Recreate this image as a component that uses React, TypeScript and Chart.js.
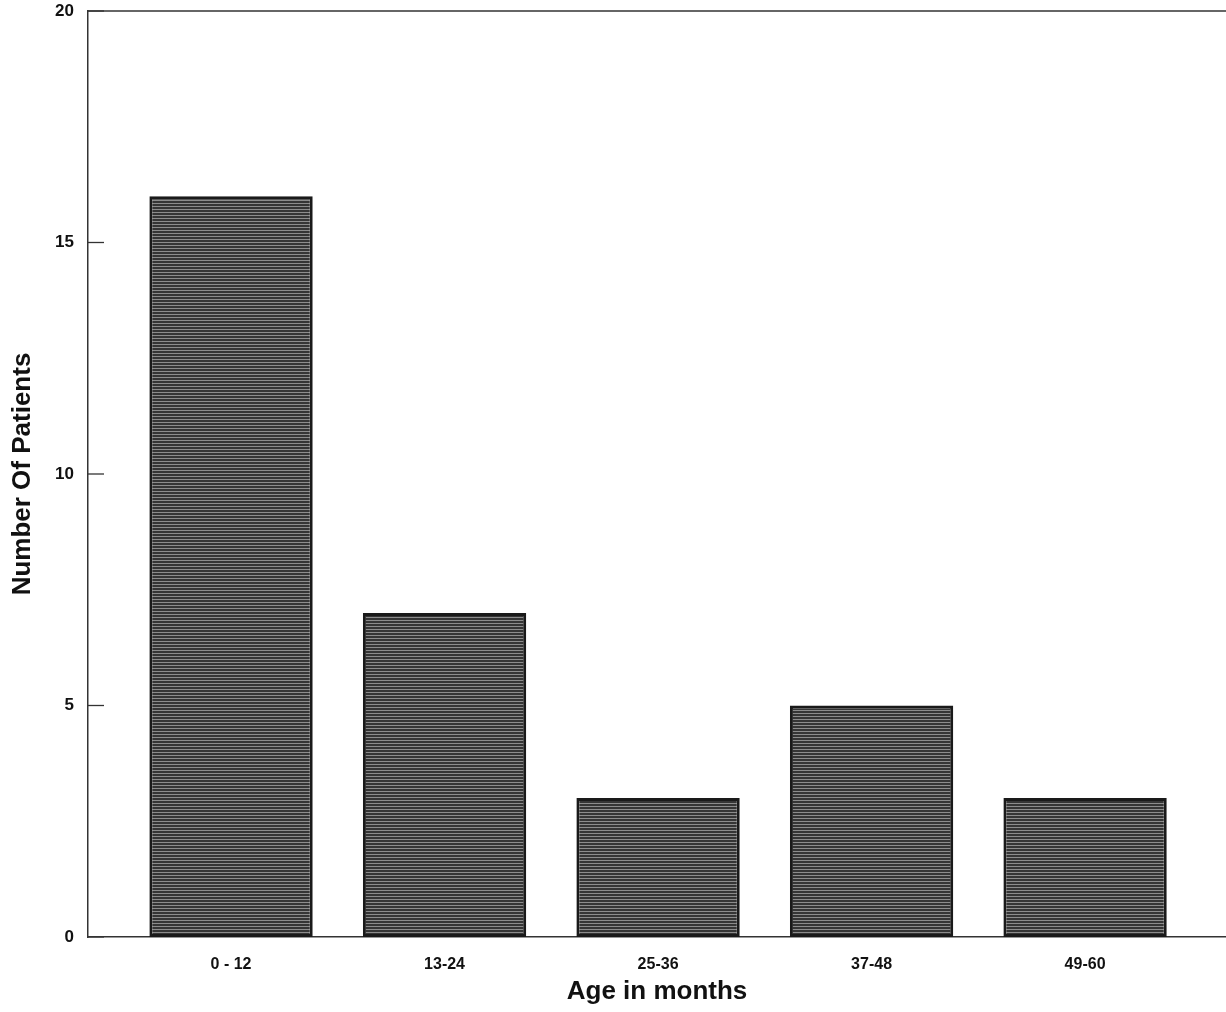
import React, { useEffect, useRef } from "react";
import { Chart, registerables } from "chart.js";

Chart.register(...registerables);

const categories = ["0 - 12", "13-24", "25-36", "37-48", "49-60"];
const patients = [16, 7, 3, 5, 3];
const yMin = 0;
const yMax = 20;
const yStep = 5;

function makePattern(): CanvasPattern | string {
  const c = document.createElement("canvas");
  c.width = 4;
  c.height = 3;
  const g = c.getContext("2d");
  if (!g) return "#555";
  g.fillStyle = "#353535";
  g.fillRect(0, 0, 4, 3);
  g.fillStyle = "#8c8c8c";
  g.fillRect(0, 2, 4, 1);
  const p = g.createPattern(c, "repeat");
  return p || "#555";
}

const framePlugin = {
  id: "framePlugin",
  beforeDraw(chart: any) {
    const ctx = chart.ctx;
    ctx.save();
    ctx.fillStyle = "#ffffff";
    ctx.fillRect(0, 0, chart.width, chart.height);
    ctx.restore();
  },
  afterDraw(chart: any) {
    const { ctx, chartArea } = chart;
    const y = chart.scales.y;
    ctx.save();
    ctx.strokeStyle = "#333333";
    ctx.lineWidth = 1.5;
    ctx.beginPath();
    ctx.moveTo(chartArea.left, chartArea.top);
    ctx.lineTo(chartArea.right, chartArea.top);
    ctx.stroke();
    ctx.lineWidth = 1.3;
    for (const t of y.ticks) {
      const py = y.getPixelForValue(t.value);
      ctx.beginPath();
      ctx.moveTo(chartArea.left, py);
      ctx.lineTo(chartArea.left + 16, py);
      ctx.stroke();
    }
    ctx.restore();
  },
};

export default function App() {
  const ref = useRef<HTMLCanvasElement | null>(null);

  useEffect(() => {
    if (!ref.current) return;
    const pattern = makePattern();
    const chart = new Chart(ref.current, {
      type: "bar",
      data: {
        datasets: [
          {
            label: "Number Of Patients",
            data: categories.map((c, i) => ({ x: i + 1, y: patients[i] })),
            backgroundColor: pattern as any,
            borderColor: "#1a1a1a",
            borderWidth: 3,
            borderSkipped: false,
            barPercentage: 0.765,
            categoryPercentage: 1,
          },
        ],
      },
      options: {
        animation: false,
        responsive: false,
        maintainAspectRatio: false,
        layout: { padding: { top: 11, right: 0, left: 0, bottom: 0 } },
        plugins: {
          legend: { display: false },
          tooltip: { enabled: false },
        },
        scales: {
          x: {
            type: "linear",
            min: 0.33,
            max: 5.66,
            offset: false,
            grid: { display: false, drawTicks: false },
            border: { display: true, color: "#333333", width: 1.5 },
            afterFit(scale: any) {
              scale.height = 75;
              scale.paddingLeft = 0;
              scale.paddingRight = 0;
            },
            ticks: {
              stepSize: 1,
              includeBounds: false,
              autoSkip: false,
              maxRotation: 0,
              padding: 18,
              color: "#111111",
              font: { family: "'Liberation Sans', Arial, sans-serif", size: 16, weight: "bold" },
              callback: (v: any) => {
                const n = Number(v);
                return Number.isInteger(n) && categories[n - 1] ? categories[n - 1] : "";
              },
            },
            title: {
              display: true,
              text: "Age in months",
              color: "#111111",
              padding: { top: 0, bottom: 5 },
              font: { family: "'Liberation Sans', Arial, sans-serif", size: 26, weight: "bold" },
            },
          },
          y: {
            min: yMin,
            max: yMax,
            grid: { display: false, drawTicks: false },
            border: { display: true, color: "#333333", width: 1.5 },
            afterFit(scale: any) {
              scale.width = 88;
              scale.paddingTop = 0;
              scale.paddingBottom = 0;
            },
            ticks: {
              stepSize: yStep,
              padding: 14,
              color: "#111111",
              font: { family: "'Liberation Sans', Arial, sans-serif", size: 17, weight: "bold" },
            },
            title: {
              display: true,
              text: "Number Of Patients",
              color: "#111111",
              padding: { top: 7, bottom: 0 },
              font: { family: "'Liberation Sans', Arial, sans-serif", size: 26, weight: "bold" },
            },
          },
        },
      },
      plugins: [framePlugin],
    } as any);
    return () => chart.destroy();
  }, []);

  return (
    <div style={{ position: "absolute", left: 0, top: 0, width: 1226, height: 1012 }}>
      <canvas ref={ref} width={1226} height={1012} style={{ width: 1226, height: 1012, display: "block" }} />
    </div>
  );
}
